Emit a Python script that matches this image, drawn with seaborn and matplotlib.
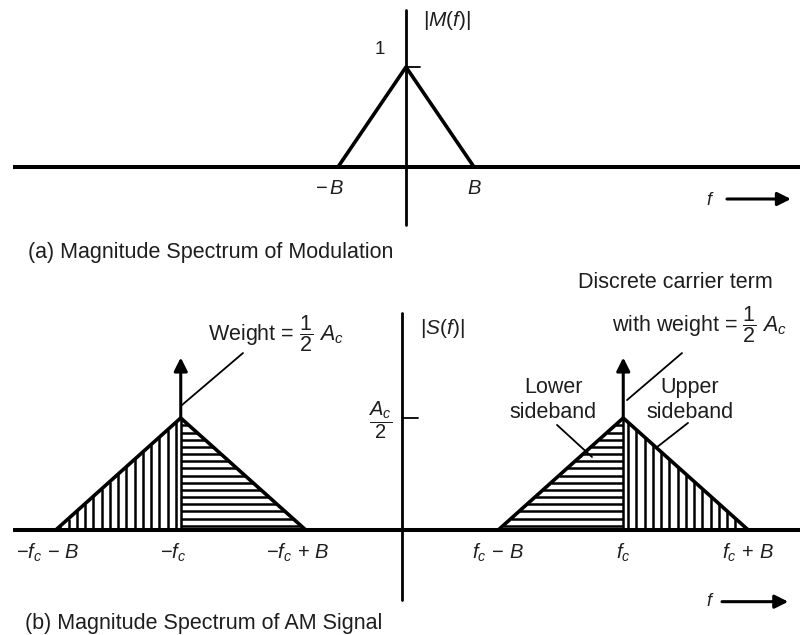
import matplotlib
matplotlib.use("Agg")
import matplotlib.pyplot as plt
import numpy as np
import seaborn as sns

# ---- (a) baseband message spectrum |M(f)|, frequency in units of B ----
msg_f = [-1.0, 0.0, 1.0]
msg_mag = [0.0, 1.0, 0.0]
msg_peak = 1.0
msg_tick_pos = [-1.0, 1.0]
msg_tick_labels = [r"$-\,B$", r"$B$"]

# ---- (b) AM signal spectrum |S(f)| ----
B = 1.0
fc = 1.77
Ac = 1.0
carrier_pos = [-fc, fc]
carrier_draw_height = 0.77        # drawn length of the impulse arrows
am_tick_pos = [-fc - B, -fc, -fc + B, fc - B, fc, fc + B]
am_tick_labels = [r"$-f_c\,-\,B$", r"$-f_c$", r"$-f_c\,+\,B$",
                  r"$f_c\,-\,B$", r"$f_c$", r"$f_c\,+\,B$"]

sns.set_theme(style="white")
plt.rcParams["font.family"] = ["Liberation Sans", "DejaVu Sans"]
plt.rcParams["mathtext.fontset"] = "custom"
plt.rcParams["mathtext.rm"] = "Liberation Sans"
plt.rcParams["mathtext.it"] = "Liberation Sans:italic"
plt.rcParams["mathtext.bf"] = "Liberation Sans:bold"

INK = "black"
TXT = "#1e1e1e"
FS_BODY = 15.5
FS_MATH = 14.5
VSTEP = 0.066     # spacing of vertical shading strokes (f units)
HSTEP = 0.032     # spacing of horizontal shading strokes (|S| units)
HATCH_LW = 1.8

fig = plt.figure(figsize=(8.09, 6.35), dpi=100)
ax_a = fig.add_axes([0, 0, 1, 1])
ax_b = fig.add_axes([0, 0, 1, 1])
for ax in (ax_a, ax_b):
    ax.set_axis_off()
    ax.patch.set_alpha(0)

ax_a.set_xlim(-5.97, 5.926)
ax_a.set_ylim(-4.68, 1.67)
ax_b.set_xlim(-3.216, 3.256)
ax_b.set_ylim(-0.46875, 2.366)

# ================= panel (a) =================
ax_a.plot([-5.78, 5.79], [0, 0], color=INK, lw=2.9, solid_capstyle="butt")
ax_a.plot([0, 0], [-0.58, 1.57], color=INK, lw=2.0)
sns.lineplot(x=msg_f, y=msg_mag, sort=False, estimator=None,
             color=INK, lw=2.6, ax=ax_a)
ax_a.plot([0, 0.206], [msg_peak, msg_peak], color=INK, lw=1.3)
ax_a.text(-0.38, msg_peak + 0.17, "1", ha="center", va="center",
          fontsize=13.5, color=TXT)
ax_a.text(0.25, 1.47, r"$|M(f)|$", ha="left", va="center",
          fontsize=FS_MATH + 0.5, color=TXT)
for pos, lab in zip(msg_tick_pos, msg_tick_labels):
    shift = -0.12 if pos < 0 else 0.0
    ax_a.text(pos + shift, -0.21, lab, ha="center", va="center",
              fontsize=FS_MATH, color=TXT)
ax_a.text(4.47, -0.33, r"$f$", ha="center", va="center",
          fontsize=13, color=TXT)
ax_a.annotate("", xy=(5.66, -0.32), xytext=(4.72, -0.32),
              arrowprops=dict(arrowstyle="-|>", color=INK, lw=2.2,
                              mutation_scale=20, shrinkA=0, shrinkB=0))

# ================= panel (b) =================
ax_b.plot([-3.11, 3.18], [0, 0], color=INK, lw=2.9, solid_capstyle="butt")
ax_b.plot([0, 0], [-0.3125, 0.969], color=INK, lw=2.0)
ax_b.plot([0, 0.128], [Ac / 2, Ac / 2], color=INK, lw=1.3)

peak = Ac / 2
for sign in (-1, 1):
    c = sign * fc
    inner_edge = sign * (fc - B)    # band edge nearer f = 0
    outer_edge = sign * (fc + B)

    # half nearer the origin: horizontal shading strokes
    ys = np.arange(HSTEP * 0.6, peak, HSTEP)
    x_slope = inner_edge + (c - inner_edge) * ys / peak
    ax_b.hlines(ys, np.minimum(x_slope, c), np.maximum(x_slope, c),
                color=INK, lw=HATCH_LW)

    # outer half: vertical shading strokes
    offs = np.arange(VSTEP * 0.6, B, VSTEP)
    xs = c + sign * offs
    heights = peak * (1 - offs / B)
    ax_b.vlines(xs, 0, heights, color=INK, lw=HATCH_LW)

    tri_x = [outer_edge, c, inner_edge]
    tri_y = [0, peak, 0]
    sns.lineplot(x=tri_x, y=tri_y, sort=False, estimator=None,
                 color=INK, lw=2.6, ax=ax_b)
    ax_b.plot([c, c], [0, peak], color=INK, lw=1.8)

for pos in carrier_pos:
    ax_b.annotate("", xy=(pos, carrier_draw_height), xytext=(pos, peak),
                  arrowprops=dict(arrowstyle="-|>", color=INK, lw=2.2,
                                  mutation_scale=20, shrinkA=0, shrinkB=0))

for pos, lab in zip(am_tick_pos, am_tick_labels):
    shift = -0.06 if pos < 0 else 0.0
    ax_b.text(pos + shift, -0.103, lab, ha="center", va="center",
              fontsize=FS_MATH, color=TXT)

ax_b.text(-0.176, 0.49, r"$\dfrac{A_c}{2}$", ha="center", va="center",
          fontsize=FS_MATH, color=TXT)
ax_b.text(0.144, 0.90, r"$|S(f)|$", ha="left", va="center",
          fontsize=FS_MATH + 0.5, color=TXT)

ax_b.text(-1.552, 0.875, r"Weight = $\dfrac{1}{2}\ A_c$", ha="left",
          va="center", fontsize=FS_BODY, color=TXT)
ax_b.plot([-1.76, -1.272], [0.558, 0.79], color=INK, lw=1.3)

ax_b.text(2.184, 1.107, "Discrete carrier term", ha="center", va="center",
          fontsize=FS_BODY, color=TXT)
ax_b.text(2.384, 0.915, r"with weight = $\dfrac{1}{2}\ A_c$", ha="center",
          va="center", fontsize=FS_BODY, color=TXT)
ax_b.plot([1.8, 2.24], [0.58, 0.79], color=INK, lw=1.3)

ax_b.text(1.208, 0.58, "Lower\nsideband", ha="center", va="center",
          fontsize=FS_BODY, color=TXT, linespacing=1.3)
ax_b.plot([1.24, 1.52], [0.469, 0.326], color=INK, lw=1.3)
ax_b.text(2.304, 0.58, "Upper\nsideband", ha="center", va="center",
          fontsize=FS_BODY, color=TXT, linespacing=1.3)
ax_b.plot([2.288, 2.04], [0.478, 0.37], color=INK, lw=1.3)

ax_b.text(2.464, -0.321, r"$f$", ha="center", va="center",
          fontsize=13, color=TXT)
ax_b.annotate("", xy=(3.09, -0.32), xytext=(2.56, -0.32),
              arrowprops=dict(arrowstyle="-|>", color=INK, lw=2.2,
                              mutation_scale=20, shrinkA=0, shrinkB=0))

# captions
fig.text(28 / 809, 1 - 252 / 635, "(a) Magnitude Spectrum of Modulation",
         ha="left", va="center", fontsize=15.5, color=TXT)
fig.text(25 / 809, 1 - 623 / 635, "(b) Magnitude Spectrum of AM Signal",
         ha="left", va="center", fontsize=15.5, color=TXT)

fig.savefig("out.png", dpi=100, facecolor="white")
